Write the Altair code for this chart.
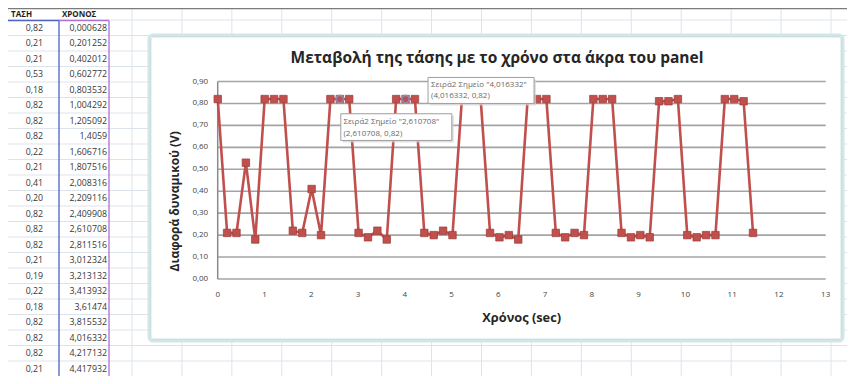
import altair as alt
import pandas as pd

W, H = 839, 368
FONT = "Open Sans"
RED = "#C0504D"

# ---------------- data ----------------
chronos = [0.000628, 0.201252, 0.402012, 0.602772, 0.803532, 1.004292, 1.205092, 1.4059,
           1.606716, 1.807516, 2.008316, 2.209116, 2.409908, 2.610708, 2.811516, 3.012324,
           3.213132, 3.413932, 3.61474, 3.815532, 4.016332, 4.217132, 4.417932,
           4.618732, 4.819532, 5.020332, 5.221132, 5.421932, 5.622732, 5.823532, 6.024332,
           6.225132, 6.425932, 6.626732, 6.827532, 7.028332, 7.229132, 7.429932, 7.630732,
           7.831532, 8.032332, 8.233132, 8.433932, 8.634732, 8.835532, 9.036332, 9.237132,
           9.437932, 9.638732, 9.839532, 10.040332, 10.241132, 10.441932, 10.642732,
           10.843532, 11.044332, 11.245132, 11.445932]
tash = [0.82, 0.21, 0.21, 0.53, 0.18, 0.82, 0.82, 0.82, 0.22, 0.21, 0.41, 0.20,
        0.82, 0.82, 0.82, 0.21, 0.19, 0.22, 0.18, 0.82, 0.82, 0.82, 0.21,
        0.20, 0.22, 0.20, 0.82, 0.82, 0.82, 0.21, 0.19, 0.20, 0.18,
        0.82, 0.82, 0.82, 0.21, 0.19, 0.21, 0.20, 0.82, 0.82, 0.82,
        0.21, 0.19, 0.20, 0.19, 0.81, 0.81, 0.82, 0.20, 0.19, 0.20, 0.20,
        0.82, 0.82, 0.81, 0.21]

x_ticks = list(range(0, 14))
y_ticks = [0.0, 0.1, 0.2, 0.3, 0.4, 0.5, 0.6, 0.7, 0.8, 0.9]

table_headers = ["ΤΑΣΗ", "ΧΡΟΝΟΣ"]
table_rows_shown = 23
sheet_row_lines = list(range(24))
sheet_col_lines = list(range(15))

chart_title = "Μεταβολή της τάσης με το χρόνο στα άκρα του panel"
x_title = "Χρόνος (sec)"
y_title = "Διαφορά δυναμικού (V)"
series_name = "Σειρά2"
tip_points = [2.610708, 4.016332]
tip_values = [0.82, 0.82]


def comma(v):
    return str(v).replace(".", ",")


df = pd.DataFrame({"t": chronos, "v": tash})

# ---------------- spreadsheet background ----------------
RS = alt.Scale(domain=[0, 23], range=[12, 368.5], nice=False, zero=False)
CS = alt.Scale(domain=[0, 14], range=[124, 823], nice=False, zero=False)
GRIDC = "#dde3eb"

row_rules = alt.Chart(pd.DataFrame({"r": sheet_row_lines})).mark_rule(
    color=GRIDC, strokeWidth=1).encode(
    y=alt.Y("r:Q", scale=RS, axis=None), x=alt.value(0), x2=alt.value(W))
col_rules = alt.Chart(pd.DataFrame({"c": sheet_col_lines})).mark_rule(
    color=GRIDC, strokeWidth=1).encode(
    x=alt.X("c:Q", scale=CS, axis=None), y=alt.value(0), y2=alt.value(H))

tdf = pd.DataFrame({
    "rc": [k + 0.5 for k in range(table_rows_shown)],
    "a": [f"{v:.2f}".replace(".", ",") for v in tash[:table_rows_shown]],
    "b": [comma(v) for v in chronos[:table_rows_shown]],
})
col_a = alt.Chart(tdf).mark_text(align="right", baseline="middle", fontSize=8.8,
                                 color="#363636", font=FONT).encode(
    y=alt.Y("rc:Q", scale=RS, axis=None), x=alt.value(35), text="a:N")
col_b = alt.Chart(tdf).mark_text(align="right", baseline="middle", fontSize=8.8,
                                 color="#363636", font=FONT).encode(
    y=alt.Y("rc:Q", scale=RS, axis=None), x=alt.value(99), text="b:N")
hdf = pd.DataFrame({"rc": [-0.35, -0.35], "h": table_headers, "px": [3, 54]})
heads = alt.Chart(hdf).mark_text(align="left", baseline="middle", fontSize=8,
                                 fontWeight="bold", color="#1e1e1e", font=FONT).encode(
    y=alt.Y("rc:Q", scale=RS, axis=None), x=alt.X("px:Q", scale=None), text="h:N")

one = pd.DataFrame({"k": [0]})
blue_v = alt.Chart(one).mark_rule(color="#4d62c4", strokeWidth=1.3).encode(
    x=alt.value(51), y=alt.value(12.5), y2=alt.value(H))
purple_v = alt.Chart(one).mark_rule(color="#b06fd2", strokeWidth=1.3).encode(
    x=alt.value(101), y=alt.value(12.5), y2=alt.value(H))
blue_h = alt.Chart(one).mark_rule(color="#4d62c4", strokeWidth=1.3).encode(
    x=alt.value(0), x2=alt.value(51), y=alt.value(12.5))
purple_h = alt.Chart(one).mark_rule(color="#b06fd2", strokeWidth=1.3).encode(
    x=alt.value(51), x2=alt.value(101), y=alt.value(12.5))
top_line = alt.Chart(one).mark_rule(color="#7b7b7b", strokeWidth=2.4).encode(
    x=alt.value(0), x2=alt.value(W), y=alt.value(0))

sheet = alt.layer(row_rules, col_rules, blue_v, purple_v, blue_h, purple_h,
                  col_a, col_b, heads, top_line)

# ---------------- chart frame ----------------
frame = alt.Chart(one).mark_rect(fill="white", stroke="#d3e6e7", strokeWidth=3,
                                 cornerRadius=4).encode(
    x=alt.value(141), x2=alt.value(835), y=alt.value(27), y2=alt.value(333))
frame_in = alt.Chart(one).mark_rect(fill=None, stroke="#b3cdcf", strokeWidth=0.8,
                                    cornerRadius=3).encode(
    x=alt.value(142.8), x2=alt.value(833.2), y=alt.value(28.8), y2=alt.value(331.2))

# ---------------- main plot ----------------
XS = alt.Scale(domain=[0, 13], range=[209.7, 817.7], nice=False, zero=False)
YS = alt.Scale(domain=[0, 0.9], range=[271, 73.5], nice=False, zero=False)


def X(f):
    return alt.X(f, scale=XS, axis=None)


def Y(f):
    return alt.Y(f, scale=YS, axis=None)


n_y = len(y_ticks)
gdf = pd.DataFrame({"gy": y_ticks, "gx0": [x_ticks[0]] * n_y, "gx1": [x_ticks[-1]] * n_y})
grid = alt.Chart(gdf).mark_rule(color="#a4a4a4", strokeWidth=1.6).encode(
    y=Y("gy:Q"), x=X("gx0:Q"), x2="gx1:Q")
ydom = alt.Chart(pd.DataFrame({"ax": [x_ticks[0]], "a0": [y_ticks[0]], "a1": [y_ticks[-1]]})
                 ).mark_rule(color="#8a8a8a", strokeWidth=1.5).encode(
    x=X("ax:Q"), y=Y("a0:Q"), y2="a1:Q")

ylab_df = pd.DataFrame({"yv": y_ticks, "ax": [x_ticks[0]] * n_y,
                        "lab": [f"{v:.2f}".replace(".", ",") for v in y_ticks]})
ylabels = alt.Chart(ylab_df).mark_text(align="right", baseline="middle", dx=-9.5,
                                       fontSize=8, color="#444444", font=FONT).encode(
    x=X("ax:Q"), y=Y("yv:Q"), text="lab:N")
xlab_df = pd.DataFrame({"xv": x_ticks, "ay": [y_ticks[0]] * len(x_ticks),
                        "lab": [str(v) for v in x_ticks]})
xlabels = alt.Chart(xlab_df).mark_text(align="center", baseline="middle", dy=16,
                                       fontSize=8, color="#444444", font=FONT).encode(
    x=X("xv:Q"), y=Y("ay:Q"), text="lab:N")

xt_df = pd.DataFrame({"xm": [(x_ticks[0] + x_ticks[-1]) / 2], "ay": [y_ticks[0]],
                      "s": [x_title]})
xtitle = alt.Chart(xt_df).mark_text(align="center", baseline="middle", dy=39,
                                    fontSize=12.8, fontWeight="bold", color="#262626",
                                    font=FONT).encode(x=X("xm:Q"), y=Y("ay:Q"), text="s:N")
yt_df = pd.DataFrame({"ax": [x_ticks[0]], "ym": [(y_ticks[0] + y_ticks[-1]) / 2],
                      "s": [y_title]})
# rotated text: dx runs along the text (upwards), dy across it (rightwards)
ytitle = alt.Chart(yt_df).mark_text(align="center", baseline="middle", dx=-21, dy=-42.7,
                                    angle=270, fontSize=12, fontWeight="bold",
                                    color="#262626", font=FONT).encode(
    x=X("ax:Q"), y=Y("ym:Q"), text="s:N")

line = alt.Chart(df).mark_line(color=RED, strokeWidth=2.6).encode(x=X("t:Q"), y=Y("v:Q"))
points = alt.Chart(df).mark_square(size=56, fill=RED, stroke="#9c3b38",
                                   strokeWidth=0.7, opacity=1).encode(
    x=X("t:Q"), y=Y("v:Q"))

tips = pd.DataFrame({
    "t": tip_points, "v": tip_values,
    "l1": [f'{series_name} Σημείο "{comma(t)}"' for t in tip_points],
    "l2": [f"({comma(t)}, {comma(v)})" for t, v in zip(tip_points, tip_values)],
})
hl = alt.Chart(tips).mark_point(shape="circle", filled=False, stroke="#7aa6db",
                                strokeWidth=1.6, size=55).encode(x=X("t:Q"), y=Y("v:Q"))


def tooltip(row, bx0, bx1, by0, by1, tdx, tdy1, tdy2):
    d = tips.iloc[[row]]
    enc = dict(x=X("t:Q"), y=Y("v:Q"))
    shadow = alt.Chart(d).mark_rect(fill="#d4d4d4", opacity=0.7, xOffset=bx0 + 2,
                                    x2Offset=bx1 + 2, yOffset=by0 + 2,
                                    y2Offset=by1 + 2).encode(x2="t:Q", y2="v:Q", **enc)
    box = alt.Chart(d).mark_rect(fill="white", stroke="#9e9e9e", strokeWidth=1,
                                 xOffset=bx0, x2Offset=bx1, yOffset=by0,
                                 y2Offset=by1).encode(x2="t:Q", y2="v:Q", **enc)
    t1 = alt.Chart(d).mark_text(align="left", baseline="middle", dx=tdx, dy=tdy1,
                                fontSize=8, color="#6a6a6a", font=FONT).encode(
        text="l1:N", **enc)
    t2 = alt.Chart(d).mark_text(align="left", baseline="middle", dx=tdx, dy=tdy2,
                                fontSize=8, color="#6a6a6a", font=FONT).encode(
        text="l2:N", **enc)
    return [shadow, box, t1, t2]


tip1 = tooltip(0, 1, 112, 14.7, 41.4, 3.7, 23.1, 34.7)
tip2 = tooltip(1, 22.5, 128.5, -21.6, 4.4, 25.5, -13.6, -2.6)

title = alt.Chart(pd.DataFrame({"s": [chart_title]})).mark_text(
    align="center", baseline="middle", fontSize=15.5, fontWeight="bold",
    color="#262626", font=FONT).encode(x=alt.value(489), y=alt.value(50), text="s:N")

main = alt.layer(grid, ydom, line, points, hl, ylabels, xlabels, xtitle, ytitle,
                 *tip1, *tip2, title)

chart = alt.layer(sheet, frame, frame_in, main).resolve_scale(
    x="independent", y="independent").properties(
    width=W, height=H, padding=0, autosize="none").configure(
    font=FONT).configure_view(stroke=None)

chart.save("out.html", embed_options={"renderer": "svg", "actions": False})
